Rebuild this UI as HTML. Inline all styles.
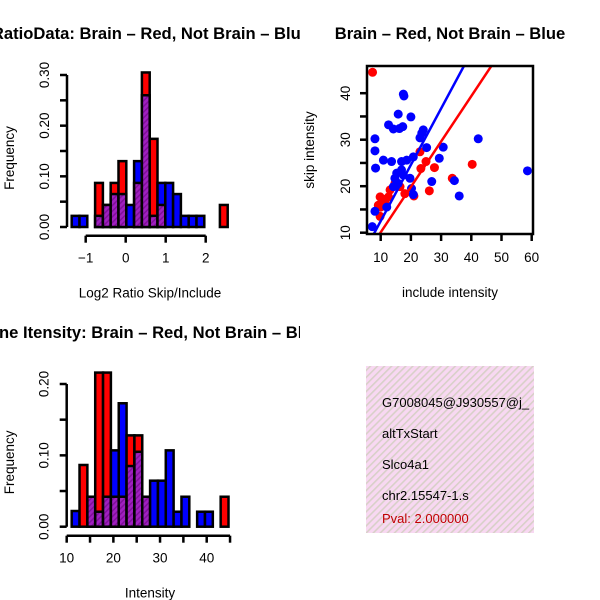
<!DOCTYPE html>
<html><head><meta charset="utf-8"><style>
html,body{margin:0;padding:0;background:#fff;}
svg{display:block;font-family:"Liberation Sans",Arial,sans-serif;}
</style></head><body>
<svg id="c" width="600" height="600" viewBox="0 0 600 600" xmlns="http://www.w3.org/2000/svg">
<defs>
<pattern id="purp" width="4" height="4" patternUnits="userSpaceOnUse" patternTransform="rotate(45)">
<rect width="4" height="4" fill="#a020c0"/><rect width="1.5" height="4" fill="#80109a"/></pattern>
<pattern id="pinkh" width="5" height="5" patternUnits="userSpaceOnUse" patternTransform="rotate(45)">
<rect width="5" height="5" fill="#f8d8f2"/><rect width="1.6" height="5" fill="#d8d0c8"/></pattern>
<clipPath id="clipL"><rect x="0" y="0" width="300" height="600"/></clipPath>
<clipPath id="clipS"><rect x="367" y="66" width="166" height="168"/></clipPath>
<clipPath id="clipT"><rect x="366" y="366" width="168" height="168"/></clipPath>
</defs>
<g id="g1"></g>
<g id="g2"></g>
<g id="g3"></g>
<g>
<rect x="366" y="366" width="168" height="167" fill="url(#pinkh)"/>
<g clip-path="url(#clipT)" font-size="13">
<text x="382" y="407">G7008045@J930557@j_</text>
<text x="382" y="438">altTxStart</text>
<text x="382" y="469">Slco4a1</text>
<text x="382" y="500">chr2.15547-1.s</text>
<text x="382" y="523" fill="#c00000">Pval: 2.000000</text>
</g></g>
</svg>
<script>
// ---- Histogram 1: log2 ratio ----
const h1Start = -1.35, h1Width = 0.195;
const h1Blue = [0.022,0.022,0,0.022,0.0435,0.065,0.065,0.0435,0.13,0.26,0.022,0.087,0.087,0.065,0.022,0.022,0.022,0,0,0];
const h1Red  = [0,0,0,0.087,0.0435,0.087,0.13,0,0.087,0.305,0.174,0.0435,0,0,0,0,0,0,0,0.0435];
const h1XTicks = [-1,0,1,2];
const h1XLabels = ["\u22121","0","1","2"];
const h1YTicks = [0,0.05,0.10,0.15,0.20,0.25,0.30];
const h1YLabels = ["0.00","","0.10","","0.20","","0.30"];
// ---- Histogram 2: intensity ----
const h2Start = 11.07, h2Width = 1.68;
const h2Blue = [0.022,0,0.042,0.021,0.042,0.107,0.173,0.085,0.105,0.042,0.0645,0.0645,0.107,0.021,0.042,0,0.021,0.021,0,0];
const h2Red  = [0,0.0865,0.042,0.216,0.216,0.042,0.042,0.128,0.128,0.042,0,0,0,0,0,0,0,0,0,0.042];
const h2XTicks = [10,15,20,25,30,35,40,45];
const h2XLabels = ["10","","20","","30","","40",""];
const h2YTicks = [0,0.05,0.10,0.15,0.20];
const h2YLabels = ["0.00","","0.10","","0.20"];
// ---- Scatter ----
const redX = [7.3,23.0,25.0,23.3,27.8,40.3,33.7,26.1,21.0,18.0,9.8,10.9,12.6,10.0,9.2,9.8,13.1,11.4,16.4,14.7];
const redY = [44.5,27.4,25.3,23.8,24.0,24.7,21.7,19.0,17.9,18.4,17.7,17.2,17.7,15.5,15.9,13.5,19.2,16.6,19.9,20.6];
const blueX = [17.5,17.7,15.8,20.0,12.6,14.2,16.2,17.3,24.1,23.6,23.0,8.1,8.1,10.9,13.6,16.9,18.6,20.8,25.2,30.7,29.4,42.3,58.6,34.4,36.0,26.9,20.8,8.3,19.7,17.5,15.3,14.7,15.8,14.2,12.0,8.1,7.2,16.9,20.2];
const blueY = [39.8,39.4,35.5,34.9,33.2,32.3,32.4,32.8,32.1,31.4,30.4,30.2,27.6,25.6,25.3,25.3,25.6,26.3,28.3,28.4,26.0,30.2,23.3,21.2,17.9,21.0,18.2,23.9,21.7,22.4,22.8,21.7,20.6,19.9,15.5,14.6,11.3,23.5,19.5];
const blueFit = [0.4,1.21];
const redFit = [0.33,0.976];
const sXTicks = [10,20,30,40,50,60];
const sYTicks = [10,15,20,25,30,35,40];
const sYLabels = ["10","","20","","30","","40"];

const FS=13.5, TFS=16.6;
const NS="http://www.w3.org/2000/svg";
function mk(parent,tag,attrs,txt){const e=document.createElementNS(NS,tag);for(const k in attrs)e.setAttribute(k,attrs[k]);if(txt!==undefined)e.textContent=txt;parent.appendChild(e);return e;}

function drawHist(g,start,width,blue,red,xs,ys,xticks,xlabels,yticks,ylabels,axY,axX,title,xlab,titleY,titleAnchor,titleX){
  blue.forEach((b,i)=>{
    const r=red[i];const x0=xs(start+i*width),x1=xs(start+(i+1)*width);
    const hi=Math.max(b,r),lo=Math.min(b,r);
    if(hi>0){
      const e=mk(g,'rect',{x:x0,y:ys(hi),width:x1-x0,height:ys(0)-ys(hi),fill:r>b?'#ff0000':'#0000ff',stroke:'#000','stroke-width':2.5});
      
      
    }
    if(lo>0){
      const e=mk(g,'rect',{x:x0,y:ys(lo),width:x1-x0,height:ys(0)-ys(lo),fill:'url(#purp)',stroke:'#000','stroke-width':2.5});
      
      
    }
  });
  const xa=mk(g,'g',{});
  
  
  mk(xa,'line',{x1:xs(xticks[0]),x2:xs(xticks[xticks.length-1]),y1:axY,y2:axY,stroke:'#000','stroke-width':2.5});
  xticks.forEach((t,i)=>{mk(xa,'line',{x1:xs(t),x2:xs(t),y1:axY,y2:axY+7,stroke:'#000','stroke-width':2.5});
    const l=mk(xa,'text',{x:xs(t),y:axY+27,'text-anchor':'middle','font-size':FS},xlabels[i]);
    
    });
  const ya=mk(g,'g',{});
  
  
  mk(ya,'line',{x1:axX,x2:axX,y1:ys(yticks[0]),y2:ys(yticks[yticks.length-1]),stroke:'#000','stroke-width':2.5});
  yticks.forEach((t,i)=>{mk(ya,'line',{x1:axX,x2:axX-7,y1:ys(t),y2:ys(t),stroke:'#000','stroke-width':2.5});
    const l=mk(ya,'text',{x:0,y:0,'text-anchor':'middle','font-size':FS,transform:`translate(${axX-18},${ys(t)}) rotate(-90)`},ylabels[i]);
    
    });
  const yt=mk(g,'text',{x:0,y:0,'text-anchor':'middle','font-size':FS,transform:`translate(14,${(ys(yticks[0])+ys(yticks[yticks.length-1]))/2+7}) rotate(-90)`},'Frequency');
  
  
  const xt=mk(g,'text',{x:150,y:axY+62,'text-anchor':'middle','font-size':FS},xlab);
  
  
  const tt=mk(g,'text',{x:titleX,y:titleY,'text-anchor':titleAnchor,'font-size':TFS,'font-weight':'bold','clip-path':'url(#clipL)'},title);
  
  
}

const x1s=v=>125.7+40*v, y1s=v=>227-v*(152/0.30);
drawHist(document.getElementById('g1'),h1Start,h1Width,h1Blue,h1Red,x1s,y1s,h1XTicks,h1XLabels,h1YTicks,h1YLabels,235.7,67,
 "RatioData: Brain \u2013 Red, Not Brain \u2013 Blue","Log2 Ratio Skip/Include",39,"end",310);
const x2s=v=>66.7+(v-10)*4.667, y2s=v=>526.7-v*(142.7/0.20);
drawHist(document.getElementById('g3'),h2Start,h2Width,h2Blue,h2Red,x2s,y2s,h2XTicks,h2XLabels,h2YTicks,h2YLabels,535.7,66.7,
 "ne Itensity: Brain \u2013 Red, Not Brain \u2013 Blue","Intensity",338,"start",-1);

// Scatter
const g2=document.getElementById('g2');
const sx=v=>380.7+(v-10)*3.02, sy=v=>232.7-(v-10)*4.65;
const pts=mk(g2,'g',{'clip-path':'url(#clipS)'});
redX.forEach((x,i)=>{const c=mk(pts,'circle',{cx:sx(x),cy:sy(redY[i]),r:4.5,fill:'#ff0000'});
  
  });
blueX.forEach((x,i)=>{const c=mk(pts,'circle',{cx:sx(x),cy:sy(blueY[i]),r:4.5,fill:'#0000ff'});
  
  });
[[blueFit,'#0000ff','fit-line-not-brain'],[redFit,'#ff0000','fit-line-brain']].forEach(([f,col,nm])=>{
  const xa=0,xb=70;
  const l=mk(pts,'line',{x1:sx(xa),y1:sy(f[0]+f[1]*xa),x2:sx(xb),y2:sy(f[0]+f[1]*xb),stroke:col,'stroke-width':2.5});
  
  });
const box=mk(g2,'rect',{x:367,y:66,width:166,height:168,fill:'none',stroke:'#000','stroke-width':2.5});


sXTicks.forEach(t=>{mk(g2,'line',{x1:sx(t),x2:sx(t),y1:234,y2:241,stroke:'#000','stroke-width':2.5});
  const l=mk(g2,'text',{x:sx(t),y:262,'text-anchor':'middle','font-size':FS},String(t));
  
  });
sYTicks.forEach((t,i)=>{mk(g2,'line',{x1:367,x2:360,y1:sy(t),y2:sy(t),stroke:'#000','stroke-width':2.5});
  const l=mk(g2,'text',{x:0,y:0,'text-anchor':'middle','font-size':FS,transform:`translate(350,${sy(t)}) rotate(-90)`},sYLabels[i]);
  
  });
const st=mk(g2,'text',{x:450,y:39,'text-anchor':'middle','font-size':TFS,'font-weight':'bold'},'Brain \u2013 Red, Not Brain \u2013 Blue');


const sxl=mk(g2,'text',{x:450,y:297,'text-anchor':'middle','font-size':FS},'include intensity');


const syl=mk(g2,'text',{x:0,y:0,'text-anchor':'middle','font-size':FS,transform:'translate(314,150) rotate(-90)'},'skip intensity');


</script>
</body></html>
